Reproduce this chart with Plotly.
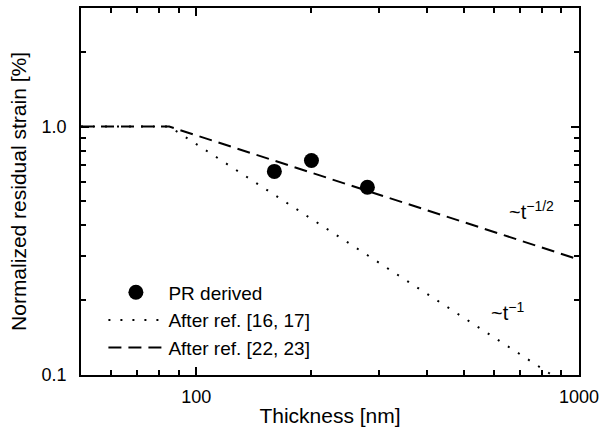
import plotly.graph_objects as go
import math

# Data
pr_thickness = [160, 200, 280]
pr_strain = [0.66, 0.73, 0.57]

model_thickness = [50, 85, 1000]
strain_inv_sqrt = [1.0, 1.0, 0.2915]   # ~t^-1/2 after knee
strain_inv = [1.0, 1.0, 0.085]         # ~t^-1 after knee

x_ticks = [100, 1000]
x_ticklabels = ["100", "1000"]
y_ticks = [0.1, 1.0]
y_ticklabels = ["0.1", "1.0"]

FONT = "Liberation Sans, Arial, sans-serif"

fig = go.Figure()
fig.add_trace(go.Scatter(
    x=pr_thickness, y=pr_strain, mode="markers", name="PR derived",
    marker=dict(color="black", size=15),
))
fig.add_trace(go.Scatter(
    x=model_thickness, y=strain_inv, mode="lines", name="After ref. [16, 17]",
    line=dict(color="black", width=2, dash="2px,10px"),
))
fig.add_trace(go.Scatter(
    x=model_thickness, y=strain_inv_sqrt, mode="lines", name="After ref. [22, 23]",
    line=dict(color="black", width=2, dash="13px,7px"),
))

fig.add_annotation(x=math.log10(750), y=math.log10(0.46), xref="x", yref="y",
                   text="~t<sup>\u22121/2</sup>", showarrow=False,
                   font=dict(size=20, color="black", family=FONT))
fig.add_annotation(x=math.log10(650), y=math.log10(0.18), xref="x", yref="y",
                   text="~t<sup>\u22121</sup>", showarrow=False,
                   font=dict(size=20, color="black", family=FONT))

axis_common = dict(
    showline=True, linecolor="black", linewidth=1.5, mirror="allticks",
    ticks="inside", ticklen=8, tickwidth=1.5, tickcolor="black",
    showgrid=False, zeroline=False,
    tickfont=dict(size=18, color="black", family=FONT),
    minor=dict(ticks="inside", ticklen=5, tickwidth=1.5, tickcolor="black",
               dtick="D1", showgrid=False),
)

fig.update_xaxes(type="log", range=[math.log10(50), 3],
                 tickvals=x_ticks, ticktext=x_ticklabels, ticklabelstandoff=5,
                 title=dict(text="Thickness [nm]", font=dict(size=21, color="black", family=FONT), standoff=2),
                 **axis_common)
fig.update_yaxes(type="log", range=[-1, math.log10(3)],
                 tickvals=y_ticks, ticktext=y_ticklabels, ticklabelstandoff=9,
                 title=dict(text="Normalized residual strain [%]", font=dict(size=21, color="black", family=FONT), standoff=9),
                 **axis_common)

fig.update_layout(
    width=605, height=430,
    margin=dict(l=81, r=21, t=6, b=55),
    paper_bgcolor="white", plot_bgcolor="white",
    font=dict(family=FONT, color="black"),
    legend=dict(x=0.045, y=0.277, xanchor="left", yanchor="top",
                bgcolor="rgba(0,0,0,0)", font=dict(size=19, family=FONT, color="black"),
                itemwidth=55, tracegroupgap=0),
)

fig.write_html("out.html", config={"displayModeBar": False},
               post_script="document.body.style.margin='0';")
